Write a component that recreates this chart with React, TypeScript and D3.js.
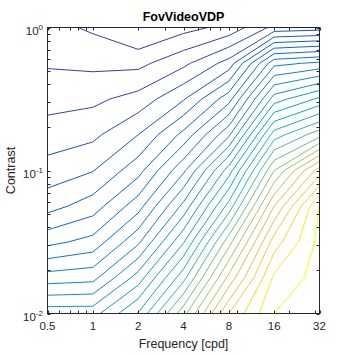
import { useEffect, useRef } from "react";
import * as d3 from "d3";

// grid the metric was sampled on
const frequencies = [0.5, 1, 2, 4, 8, 16, 32];
const logContrasts = [0, -0.25, -0.5, -0.75, -1, -1.25, -1.5, -1.75, -2];

// metric value at each grid node, one list per frequency column (top -> bottom)
const colF0_5 = [1.33, 1.89, 2.63, 3.45, 4.41, 5.61, 7.71, 10.47, 13.6];
const colF1 = [0.84, 1.76, 2.77, 3.76, 4.95, 6.5, 8.35, 10.67, 13.6];
const colF2 = [-0.12, 1.71, 3.38, 5.0, 6.62, 8.58, 10.8, 13.45, 16.07];
const colF4 = [0.65, 2.75, 4.91, 7.3, 9.8, 12.3, 14.9, 17.67, 20.64];
const colF8 = [1.3, 4.4, 7.6, 10.8, 14.5, 17.4, 20.6, 23.3, 26.0];
const colF16 = [3.3, 9.7, 13.5, 17.5, 21.0, 24.0, 26.5, 28.2, 29.0];
const colF32 = [3.5, 10.2, 15.2, 19.6, 25.5, 29.05, 29.3, 29.4, 29.5];

const contourLevels = [
  1, 2, 3, 4, 5, 6, 7, 8, 9, 10, 11, 12, 13, 14, 15, 16, 17, 18, 19, 20, 21,
  22, 23, 24, 25, 26, 27, 28, 29,
];

const xTicks = [0.5, 1, 2, 4, 8, 16, 32];
const xTickLabels = ["0.5", "1", "2", "4", "8", "16", "32"];
const xMinorTicks = [0.6, 0.7, 0.8, 0.9, 3, 5, 6, 7, 9, 20, 30];
const yTicks = [0.01, 0.1, 1];
const yTickExponents = ["-2", "-1", "0"];
const yMinorTicks = [
  0.02, 0.03, 0.04, 0.05, 0.06, 0.07, 0.08, 0.09, 0.2, 0.3, 0.4, 0.5, 0.6, 0.7,
  0.8, 0.9,
];

// parula colormap stops
const parula = [
  "#352a87", "#3243ba", "#0363e1", "#0d75dc", "#1485d4", "#079ccf",
  "#07a9c2", "#1db3af", "#42bb98", "#7cbf7b", "#a5be6b", "#c8bc5d",
  "#e9b94e", "#ffc337", "#f7d826", "#f9fb0e",
];
const colorDomain = [-4, 28.5];

const axisColor = "#262626";
const font = "'Liberation Sans', Arial, sans-serif";

export default function App() {
  const svgRef = useRef<SVGSVGElement>(null);

  useEffect(() => {
    if (!svgRef.current) return;
    const svg = d3.select(svgRef.current);
    svg.selectAll("*").remove();

    const left = 47.5, right = 319.5, top = 27.5, bottom = 313.5;

    const x = d3.scaleLog().domain([0.5, 32]).range([left, right]);
    const y = d3.scaleLog().domain([0.01, 1]).range([bottom, top]);

    const columns = [colF0_5, colF1, colF2, colF4, colF8, colF16, colF32];
    const nx = frequencies.length;
    const ny = logContrasts.length;
    const values: number[] = [];
    for (let i = 0; i < ny; i++)
      for (let j = 0; j < nx; j++) values.push(columns[j][i]);

    // grid coordinates (sample centres at k + 0.5) -> pixels
    const gridX = d3
      .scaleLinear()
      .domain([0.5, nx - 0.5])
      .range([x(frequencies[0]), x(frequencies[nx - 1])]);
    const gridY = d3
      .scaleLinear()
      .domain([0.5, ny - 0.5])
      .range([y(Math.pow(10, logContrasts[0])), y(Math.pow(10, logContrasts[ny - 1]))]);

    const projection = d3.geoTransform({
      point(px: number, py: number) {
        this.stream.point(gridX(px), gridY(py));
      },
    });
    const path = d3.geoPath(projection);

    const contours = d3.contours().size([nx, ny]).thresholds(contourLevels)(values);

    const color = d3
      .scaleSequentialPow(d3.piecewise(d3.interpolateRgb, parula))
      .exponent(1.6)
      .domain(colorDomain as [number, number])
      .clamp(true);

    svg
      .append("defs")
      .append("clipPath")
      .attr("id", "plot-clip")
      .append("rect")
      .attr("x", left)
      .attr("y", top)
      .attr("width", right - left)
      .attr("height", bottom - top);

    svg
      .append("rect")
      .attr("width", 354)
      .attr("height", 354)
      .attr("fill", "#fff");

    // Contour lines
    svg
      .append("g")
      .attr("clip-path", "url(#plot-clip)")
      .selectAll("path")
      .data(contours)
      .join("path")
      .attr("d", (d) => path(d as any))
      .attr("fill", "none")
      .attr("stroke", (d) => color(d.value))
      .attr("stroke-width", 1)
      .attr("stroke-linejoin", "round");

    // Box
    svg
      .append("rect")
      .attr("x", left)
      .attr("y", top)
      .attr("width", right - left)
      .attr("height", bottom - top)
      .attr("fill", "none")
      .attr("stroke", axisColor)
      .attr("stroke-width", 1);

    const tickLen = 3;
    const ticks = svg.append("g").attr("stroke", axisColor).attr("stroke-width", 1);

    [...xTicks, ...xMinorTicks].forEach((t) => {
      const px = Math.round(x(t)) + 0.5;
      ticks.append("line").attr("x1", px).attr("x2", px).attr("y1", bottom).attr("y2", bottom - tickLen);
      ticks.append("line").attr("x1", px).attr("x2", px).attr("y1", top).attr("y2", top + tickLen);
    });
    [...yTicks, ...yMinorTicks].forEach((t) => {
      const py = Math.round(y(t)) + 0.5;
      ticks.append("line").attr("x1", left).attr("x2", left + tickLen).attr("y1", py).attr("y2", py);
      ticks.append("line").attr("x1", right).attr("x2", right - tickLen).attr("y1", py).attr("y2", py);
    });

    // X tick labels
    svg
      .append("g")
      .selectAll("text")
      .data(xTicks)
      .join("text")
      .attr("x", (d) => x(d))
      .attr("y", 330)
      .attr("text-anchor", "middle")
      .attr("font-family", font)
      .attr("font-size", 11.5)
      .attr("fill", axisColor)
      .text((_, i) => xTickLabels[i]);

    // Y tick labels (10^n)
    yTicks.forEach((t, i) => {
      const txt = svg
        .append("text")
        .attr("x", 43)
        .attr("y", y(t) + 7)
        .attr("text-anchor", "end")
        .attr("font-family", font)
        .attr("font-size", 11.5)
        .attr("fill", axisColor);
      txt.append("tspan").text("10");
      txt.append("tspan").attr("dy", -5).attr("font-size", 8).text(yTickExponents[i]);
    });

    // Labels
    svg
      .append("text")
      .attr("x", (left + right) / 2)
      .attr("y", 348)
      .attr("text-anchor", "middle")
      .attr("font-family", font)
      .attr("font-size", 12.5)
      .attr("fill", axisColor)
      .text("Frequency [cpd]");

    svg
      .append("text")
      .attr("transform", `translate(15,${(top + bottom) / 2}) rotate(-90)`)
      .attr("text-anchor", "middle")
      .attr("font-family", font)
      .attr("font-size", 12.5)
      .attr("fill", axisColor)
      .text("Contrast");

    svg
      .append("text")
      .attr("x", (left + right) / 2)
      .attr("y", 20.5)
      .attr("text-anchor", "middle")
      .attr("font-family", font)
      .attr("font-size", 12.5)
      .attr("font-weight", "bold")
      .attr("fill", "#000")
      .text("FovVideoVDP");
  }, []);

  return (
    <svg
      ref={svgRef}
      width={354}
      height={354}
      style={{ position: "absolute", left: 0, top: 0, display: "block" }}
    />
  );
}
